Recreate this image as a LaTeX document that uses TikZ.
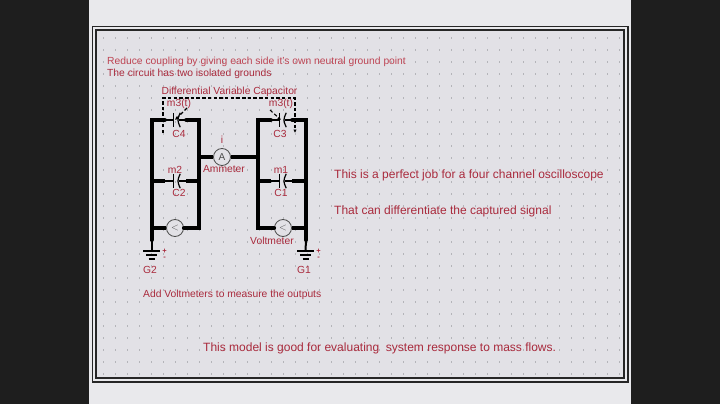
\documentclass[tikz,border=0pt]{standalone}
\usepackage{fontspec}
\setmainfont{Liberation Sans}
\usetikzlibrary{arrows.meta,calc}
\definecolor{panel}{HTML}{E2E1E6}
\definecolor{edgeband}{HTML}{E9E9EC}
\definecolor{sidebar}{HTML}{1E1E1E}
\definecolor{grid}{HTML}{B4B4B9}
\definecolor{lbl}{HTML}{A92A3C}
\definecolor{lightlbl}{HTML}{BE4453}
\tikzset{
  x=1pt,y=-1pt,
  wire/.style={line width=4pt,black},
  lead/.style={line width=1.1pt,black},
  plate/.style={line width=1.2pt,black},
  gnd/.style={line width=1.1pt,black},
  meter/.style={circle,draw=black!70,line width=.8pt,fill=panel,minimum size=17pt,inner sep=0pt,text=black!70,font=\fontsize{10}{10}\selectfont},
  capbox/.style={minimum width=6pt,minimum height=14pt,inner sep=0pt},
  tag/.style={text=lbl,inner sep=0pt,font=\fontsize{10.3}{11}\selectfont},
  note/.style={text=lbl,inner sep=0pt,anchor=west,font=\fontsize{12}{13}\selectfont},
  small/.style={text=lbl,inner sep=0pt,anchor=west,font=\fontsize{10.3}{12}\selectfont},
  signmark/.style={text=lbl,inner sep=0pt,font=\bfseries\fontsize{7.5}{7.5}\selectfont},
  dashwire/.style={line width=1.1pt,black,dash pattern=on 3.5pt off 2.2pt},
}
\begin{document}
\begin{tikzpicture}
\useasboundingbox (0,0) rectangle (720,404);
\fill[sidebar] (0,0) rectangle (720,404);
\fill[edgeband] (89,0) rectangle (631,404);
\fill[panel] (96,30) rectangle (624,378);
\draw[line width=1.2pt,black!85] (92.5,26.5) rectangle (628,382);
\draw[line width=1.2pt,black!85] (96,30) rectangle (624,378);
\foreach \i in {0,...,43}{\foreach \j in {0,...,28}{
  \fill[grid] ({103.5+12*\i-.6},{38+12*\j-.6}) rectangle ++(1.2,1.2);}}
% corner points
\coordinate (ltl) at (151.5,120); \coordinate (ltr) at (199,120);
\coordinate (lml) at (151.5,181); \coordinate (lmr) at (199,181);
\coordinate (lvl) at (151.5,228); \coordinate (lvr) at (199,228);
\coordinate (lgb) at (151.5,240); \coordinate (lgt) at (151.5,251);
\coordinate (rtl) at (258,120); \coordinate (rtr) at (306,120);
\coordinate (rml) at (258,181); \coordinate (rmr) at (306,181);
\coordinate (rvl) at (258,228); \coordinate (rvr) at (306,228);
\coordinate (rgb) at (306,240); \coordinate (rgt) at (305.5,251);
\coordinate (lamp) at (199,157); \coordinate (ramp) at (258,157);
% components
\node[capbox] (C4) at (177,120) {};
\node[capbox] (C2) at (177,181) {};
\node[capbox] (C3) at (283,120) {};
\node[capbox] (C1) at (283,181) {};
\node[meter] (AM) at (222,157) {A};
\node[meter] (VL) at (175,228) {$<$};
\node[meter] (VR) at (283,228) {$<$};
% wires
\draw[wire,line cap=round] ($(C4.west)+(-9,0)$) -- (ltl) -- (lgb);
\draw[wire,line cap=round] ($(C4.east)+(6,0)$) -- (ltr) -- (lvr) -- (VL.east);
\draw[wire,line cap=round] ($(C3.west)+(-9,0)$) -- (rtl) -- (rvl) -- (VR.west);
\draw[wire,line cap=round] ($(C3.east)+(6,0)$) -- (rtr) -- (rgb);
\draw[wire] (lvl) -- (VL.west);
\draw[wire] (VR.east) -- (rvr);
\draw[wire] (lml) -- ($(C2.west)+(-9,0)$);
\draw[wire] ($(C2.east)+(6,0)$) -- (lmr);
\draw[wire] (rml) -- ($(C1.west)+(-9,0)$);
\draw[wire] ($(C1.east)+(6,0)$) -- (rmr);
\draw[wire] (lamp) -- (AM.west);
\draw[wire] (AM.east) -- (ramp);
% capacitor plates and leads
\foreach \c in {C4,C2,C3,C1}{
  \draw[plate] (\c.north west) -- (\c.south west);
  \draw[plate] (\c.north east) .. controls ($(\c.east)+(-3,0)$) and ($(\c.east)+(-3,0)$) .. (\c.south east);
  \draw[lead] (\c.west) -- ++(-9,0);
  \draw[lead] ($(\c.east)+(-1.5,0)$) -- ++(8,0);
}
% grounds
\draw[line width=2pt] (lgb) -- (lgt);
\draw[line width=2pt] (rgb) -- (rgt);
\foreach \g in {lgt,rgt}{
  \draw[gnd] ($(\g)+(-8.5,0)$) -- ++(17,0);
  \draw[gnd] ($(\g)+(-5.5,4)$) -- ++(11,0);
  \draw[gnd] ($(\g)+(-3,8)$) -- ++(6,0);
  \node[signmark] at ($(\g)+(13,0.5)$) {+};
  \node[signmark] at ($(\g)+(13,7.5)$) {-};
}
% dashed control line
\coordinate (dtl) at (163,98); \coordinate (dtr) at (295,98);
\coordinate (dbl) at (163,133); \coordinate (dbr) at (295,133);
\coordinate (m3l) at (187,108); \coordinate (m3r) at (270,110);
\coordinate (m3le) at (175,120); \coordinate (m3re) at (281,120);
\draw[dashwire,-{Latex[length=3.5pt,width=3.5pt]}] (dbl) -- (dtl) -- (dtr) -- (dbr);
\draw[dashwire,-{Latex[length=3.5pt,width=3.5pt]}] (m3l) -- (m3le);
\draw[dashwire,-{Latex[length=3.5pt,width=3.5pt]}] (m3r) -- (m3re);
% labels
\node[small,text=lightlbl] (t1) at (107,62) {Reduce coupling by giving each side it's own neutral ground point};
\node[small] (t2) at (107,74) {The circuit has two isolated grounds};
\node[tag] (tdiff) at (229.5,92) {Differential Variable Capacitor};
\node[tag] at (179,104) {m3(t)};
\node[tag] at (281,104) {m3(t)};
\node[tag] at (179,134) {C4};
\node[tag] at (280,134) {C3};
\node[tag] at (222,139.5) {i};
\node[tag] at (224,169.5) {Ammeter};
\node[tag] at (175,169.5) {m2};
\node[tag] at (281,169.5) {m1};
\node[tag] at (179,193) {C2};
\node[tag] at (281,193) {C1};
\node[tag] at (272,241) {Voltmeter};
\node[tag] at (150,270) {G2};
\node[tag] at (304,270) {G1};
\node[small] at (143,294.5) {Add Voltmeters to measure the outputs};
\node[note] at (334,175) {This is a perfect job for a four channel oscilloscope};
\node[note] at (334,211) {That can differentiate the captured signal};
\node[note] at (203,348) {This model is good for evaluating\ \ system response to mass flows.};
\end{tikzpicture}
\end{document}
